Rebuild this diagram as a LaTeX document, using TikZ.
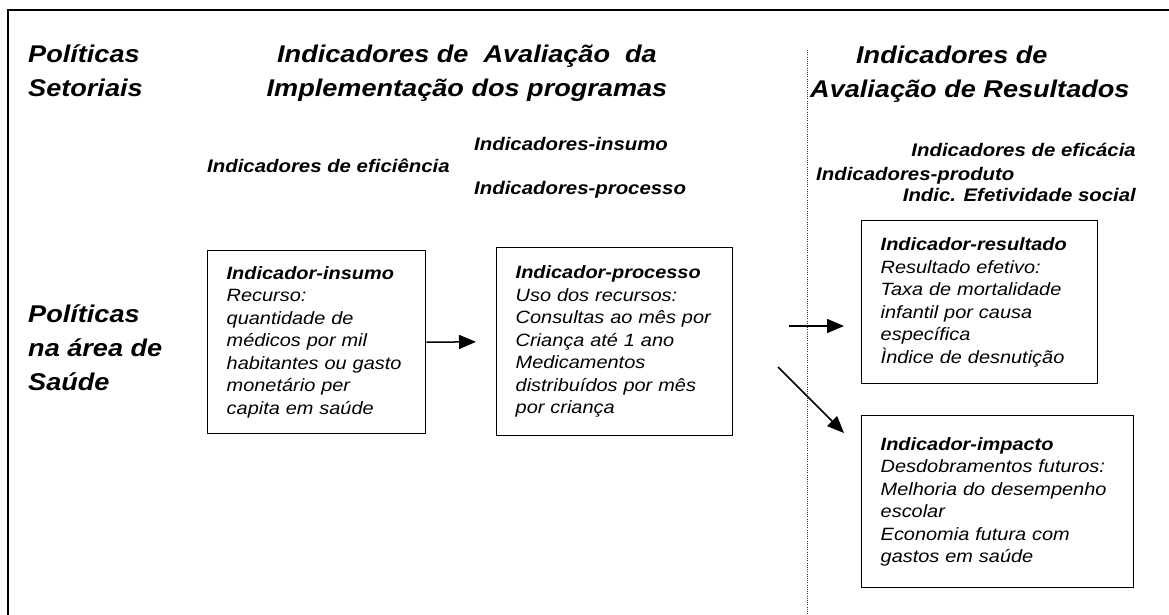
\documentclass[tikz,border=0pt]{standalone}
\usepackage{fontspec}
\setmainfont[FakeStretch=1.12]{Liberation Sans}
\usetikzlibrary{arrows.meta,calc}

\newcommand{\hdrfont}{\fontsize{24.2}{34}\selectfont\bfseries\itshape}
\newcommand{\lblfont}{\fontsize{18.2}{22}\selectfont\bfseries\itshape}
\newcommand{\boxfont}{\fontsize{17.8}{22.5}\selectfont\itshape}

\begin{document}
\begin{tikzpicture}[%
	x=1pt,y=-1pt,>={Triangle[length=17pt,width=14pt]},
	hdr/.style={font=\hdrfont,inner sep=0pt},
	lbl/.style={font=\lblfont,inner sep=0pt},
	box/.style={draw,line width=1.4pt,anchor=north west,align=left,
		font=\boxfont,inner xsep=19pt,inner ysep=0pt},
	flow/.style={->,line width=1.5pt}]

	\useasboundingbox (0,0) rectangle (1169,615);
	\draw[line width=2.2pt] (1169,10) -- (8,10) -- (8,615);

	% column headings (base = last line)
	\node (SET)  [hdr,anchor=base west,align=left]   at (28,97)  {Políticas\\Setoriais};
	\node (IMPL) [hdr,anchor=base,align=center]      at (467,97) {Indicadores de\ \ Avaliação\ \ da\\Implementação dos programas};
	\node (RES)  [hdr,anchor=base west,align=left]   at (810,98) {\hspace*{46pt}Indicadores de\\Avaliação de Resultados};
	\node (SAU)  [hdr,anchor=base west,align=left]   at (28,390) {Políticas\\na área de\\Saúde};

	% indicator families
	\node (EINS) [lbl,anchor=base west] at (474,150)  {Indicadores-insumo};
	\node (EFIC) [lbl,anchor=base west] at (207,172)  {Indicadores de eficiência};
	\node (EPRO) [lbl,anchor=base west] at (474,194)  {Indicadores-processo};
	\node (EFCA) [lbl,anchor=base east] at (1136,157) {Indicadores de eficácia};
	\node (EPRD) [lbl,anchor=base west] at (816,180)  {Indicadores-produto};
	\node (EEFS) [lbl,anchor=base east] at (1136,201) {Indic. Efetividade social};

	% boxes
	\node (INS) [box,text width=180pt,minimum height=183pt] at (207,250) {%
		\textbf{Indicador-insumo}\\
		Recurso:\\
		quantidade de\\
		médicos por mil\\
		habitantes ou gasto\\
		monetário per\\
		capita em saúde};
	\node (PRO) [box,text width=198pt,minimum height=188pt] at (496,247) {%
		\textbf{Indicador-processo}\\
		Uso dos recursos:\\
		Consultas ao mês por\\
		Criança até 1 ano\\
		Medicamentos\\
		distribuídos por mês\\
		por criança};
	\node (RSL) [box,text width=198pt,minimum height=163pt] at (861,220) {%
		\textbf{Indicador-resultado}\\
		Resultado efetivo:\\
		Taxa de mortalidade\\
		infantil por causa\\
		específica\\
		Ìndice de desnutição};
	\node (IMP) [box,text width=234pt,minimum height=172pt] at (861,415) {%
		\textbf{Indicador-impacto}\\
		Desdobramentos futuros:\\
		Melhoria do desempenho\\
		escolar\\
		Economia futura com\\
		gastos em saúde};

	% divider between the two groups
	\coordinate (DIVT) at (807,50);
	\coordinate (DIVB) at (807,615);
	\draw[black!80,line width=1pt,dash pattern=on 1pt off 1.2pt] (DIVT) -- (DIVB);

	\coordinate (R1) at (789,326);
	\coordinate (R2) at (778,367);

	\draw[flow,shorten >=20pt] (INS.east) -- (PRO.west);
	\draw[flow,shorten >=17pt] (R1) -- (R1 -| RSL.west);
	\draw[flow,shorten >=24pt] (R2) -- ($(IMP.north west)+(0,35)$);

\end{tikzpicture}
\end{document}
